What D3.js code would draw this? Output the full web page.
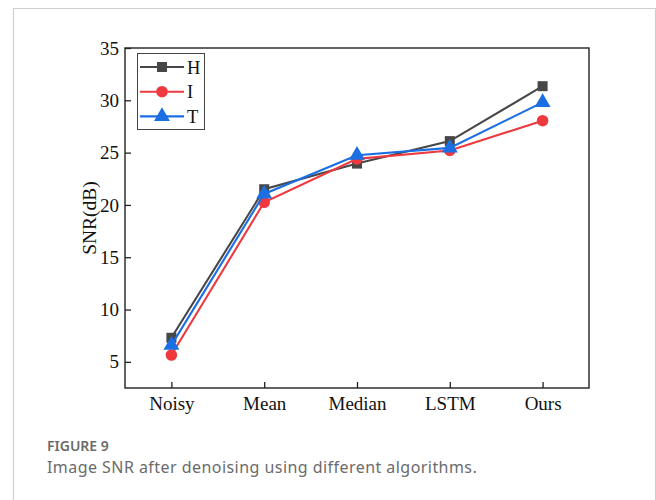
<!DOCTYPE html>
<html>
<head>
<meta charset="utf-8">
<script src="https://cdn.jsdelivr.net/npm/d3@7"></script>
<style>
  html, body { margin: 0; padding: 0; background: #fff; }
  svg { display: block; }
</style>
</head>
<body>
<svg id="chart" width="656" height="500"></svg>
<script>
// Algorithms compared and SNR (dB) per image
const categories = ["Noisy", "Mean", "Median", "LSTM", "Ours"];
const seriesNames = ["H", "I", "T"];
const valuesH = [7.3, 21.5, 23.95, 26.1, 31.35];
const valuesI = [5.65, 20.25, 24.4, 25.2, 28.05];
const valuesT = [6.6, 21.05, 24.75, 25.45, 29.8];
const yTicks = [5, 10, 15, 20, 25, 30, 35];
const colors = { H: "#474747", I: "#ee3a3f", T: "#1b6fe3" };
const symbols = { H: d3.symbolSquare, I: d3.symbolCircle, T: d3.symbolTriangle };
const symbolSizes = { H: 100, I: 105, T: 110 };

const series = [
  { name: "H", values: valuesH },
  { name: "I", values: valuesI },
  { name: "T", values: valuesT }
];

const svg = d3.select("#chart");
const serif = "'Liberation Serif', 'Times New Roman', serif";

// outer card border
svg.append("path")
  .attr("d", "M13.5,500 V8.5 H655.5 V500")
  .attr("fill", "none")
  .attr("stroke", "#d0d0d0")
  .attr("stroke-width", 1.2);

const plot = { left: 125, right: 589, top: 48, bottom: 388 };

const x = d3.scalePoint()
  .domain(categories)
  .range([plot.left, plot.right])
  .padding(0.5);

const y = d3.scaleLinear()
  .domain([2.5, 35])
  .range([plot.bottom, plot.top]);

// plot frame
svg.append("rect")
  .attr("x", plot.left).attr("y", plot.top)
  .attr("width", plot.right - plot.left)
  .attr("height", plot.bottom - plot.top)
  .attr("fill", "none")
  .attr("stroke", "#222")
  .attr("stroke-width", 1.4);

// y axis (ticks point inward)
const yAxis = svg.append("g")
  .attr("transform", `translate(${plot.left},0)`)
  .call(d3.axisLeft(y).tickValues(yTicks).tickSizeInner(-6).tickSizeOuter(0).tickPadding(6));
yAxis.select(".domain").remove();
yAxis.selectAll("line").attr("stroke", "#222").attr("stroke-width", 1.3);
yAxis.selectAll("text")
  .attr("font-family", serif).attr("font-size", 19).attr("fill", "#111");

// x axis
const xAxis = svg.append("g")
  .attr("transform", `translate(0,${plot.bottom})`)
  .call(d3.axisBottom(x).tickSizeInner(-6).tickSizeOuter(0).tickPadding(9));
xAxis.select(".domain").remove();
xAxis.selectAll("line").attr("stroke", "#222").attr("stroke-width", 1.3);
xAxis.selectAll("text")
  .attr("font-family", serif).attr("font-size", 19).attr("fill", "#111");

// y axis title
svg.append("text")
  .attr("transform", `translate(96,${(plot.top + plot.bottom) / 2}) rotate(-90)`)
  .attr("text-anchor", "middle")
  .attr("font-family", serif)
  .attr("font-size", 19.5)
  .attr("fill", "#111")
  .text("SNR(dB)");

// lines and markers
const line = d3.line()
  .x((d, i) => x(categories[i]))
  .y(d => y(d));

series.forEach(s => {
  const g = svg.append("g");
  g.append("path")
    .datum(s.values)
    .attr("d", line)
    .attr("fill", "none")
    .attr("stroke", colors[s.name])
    .attr("stroke-width", 2.1);
  g.selectAll("path.mark")
    .data(s.values)
    .join("path")
    .attr("class", "mark")
    .attr("transform", (d, i) => `translate(${x(categories[i])},${y(d)})`)
    .attr("d", d3.symbol().type(symbols[s.name]).size(symbolSizes[s.name]))
    .attr("fill", colors[s.name]);
});

// legend
const legend = svg.append("g").attr("transform", "translate(137,53)");
legend.append("rect")
  .attr("x", 0.5).attr("y", 0.5)
  .attr("width", 67).attr("height", 76)
  .attr("fill", "#fff")
  .attr("stroke", "#444")
  .attr("stroke-width", 1);
seriesNames.forEach((name, i) => {
  const cy = 14 + i * 24.7;
  legend.append("line")
    .attr("x1", 3).attr("x2", 47)
    .attr("y1", cy).attr("y2", cy)
    .attr("stroke", colors[name])
    .attr("stroke-width", 2.1);
  legend.append("path")
    .attr("transform", `translate(25,${cy})`)
    .attr("d", d3.symbol().type(symbols[name]).size(symbolSizes[name]))
    .attr("fill", colors[name]);
  legend.append("text")
    .attr("x", 50).attr("y", cy + 6.5)
    .attr("font-family", serif)
    .attr("font-size", 18.5)
    .attr("fill", "#111")
    .text(name);
});

// caption
svg.append("text")
  .attr("x", 47).attr("y", 451)
  .attr("font-family", "'Noto Sans', 'Open Sans', sans-serif")
  .attr("font-size", 14)
  .attr("font-weight", 600)
  .attr("fill", "#6b6b6b")
  .text("FIGURE 9");
svg.append("text")
  .attr("x", 47).attr("y", 473)
  .attr("font-family", "'Noto Sans', 'Open Sans', sans-serif")
  .attr("font-size", 16)
  .attr("letter-spacing", 0.45)
  .attr("fill", "#6b6b6b")
  .text("Image SNR after denoising using different algorithms.");
</script>
</body>
</html>
